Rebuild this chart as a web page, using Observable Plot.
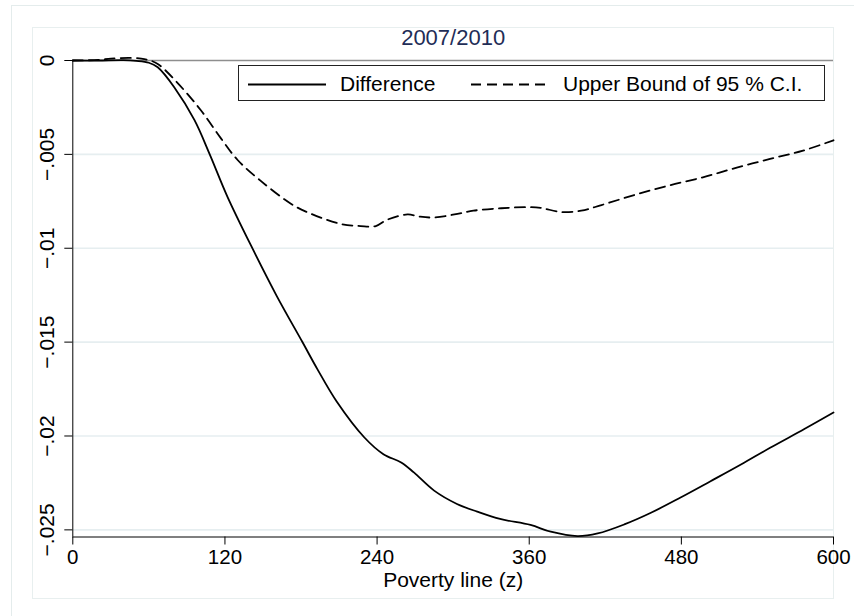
<!DOCTYPE html>
<html>
<head>
<meta charset="utf-8">
<script src="https://cdn.jsdelivr.net/npm/d3@7"></script>
<script src="https://cdn.jsdelivr.net/npm/@observablehq/plot@0.6"></script>
<style>
  html, body { margin: 0; padding: 0; background: #fff; }
  #wrap { position: relative; width: 854px; height: 616px; overflow: hidden; font-family: "Liberation Sans", Arial, sans-serif; }
  .outer { position: absolute; left: 11px; top: 5px; width: 900px; height: 700px; border-left: 1px solid #e4ecec; border-top: 1px solid #e4ecec; }
  .inner { position: absolute; left: 32px; top: 27px; width: 800px; height: 570px; border: 1px solid #e8efef; }
  #chart { position: absolute; left: 0; top: 0; }
  .legend { position: absolute; left: 238px; top: 65px; width: 587px; height: 36px; border: 1px solid #222; background: #fff; box-sizing: border-box; }
  .legend span { position: absolute; top: 6px; font-size: 21px; color: #000; white-space: nowrap; }
  .legend svg { position: absolute; top: 0; }
</style>
</head>
<body>
<div id="wrap">
  <div class="outer"></div>
  <div class="inner"></div>
  <div id="chart"></div>
</div>
<script>
// Difference curve
const diffZ = [0, 20, 40, 50, 60, 67, 80, 96, 108, 122, 142, 161, 181, 193, 208, 230, 245, 259, 269, 285, 303, 319, 337, 361, 377, 398, 414, 435, 456, 479, 503, 527, 550, 577, 600];
const diffV = [0, 0, 0.00002, -0.00002, -0.00012, -0.00036, -0.00142, -0.00318, -0.0050, -0.00726, -0.01005, -0.01256, -0.01498, -0.01645, -0.01815, -0.02008, -0.02097, -0.02141, -0.02194, -0.02291, -0.02362, -0.02403, -0.02442, -0.02474, -0.02510, -0.02533, -0.02519, -0.02471, -0.02409, -0.02329, -0.02241, -0.02152, -0.02063, -0.01963, -0.01875];
// Upper bound of 95% C.I.
const upZ = [0, 20, 30, 45, 54, 60, 67, 82, 101, 117, 130, 148, 172, 185, 211, 227, 239, 248, 264, 274, 285, 301, 316, 338, 358, 369, 385, 401, 417, 444, 470, 497, 523, 550, 576, 600];
const upV = [0, 0.00003, 0.0001, 0.00014, 0.0001, 0.00002, -0.00018, -0.00115, -0.00265, -0.00416, -0.0053, -0.0064, -0.00763, -0.00808, -0.0087, -0.00882, -0.00882, -0.00848, -0.0082, -0.00832, -0.00836, -0.0082, -0.008, -0.00787, -0.00781, -0.00785, -0.00807, -0.008, -0.0077, -0.00714, -0.00666, -0.00622, -0.00572, -0.00524, -0.0048, -0.00425];

const xTicks = [0, 120, 240, 360, 480, 600];
const yTicks = [0, -0.005, -0.01, -0.015, -0.02, -0.025];
const yTickLabels = ["0", "\u2212.005", "\u2212.01", "\u2212.015", "\u2212.02", "\u2212.025"];
const titleText = "2007/2010";
const xLabel = "Poverty line (z)";
const seriesNames = ["Difference", "Upper Bound of 95 % C.I."];

const diffData = diffZ.map((z, i) => ({z, v: diffV[i]}));
const upData = upZ.map((z, i) => ({z, v: upV[i]}));
const yMin = -0.02538;

const plot = Plot.plot({
  width: 854,
  height: 616,
  marginLeft: 72.3,
  marginRight: 21,
  marginTop: 60,
  marginBottom: 79.5,
  style: {fontFamily: "Liberation Sans, Arial, sans-serif", background: "transparent", color: "#000"},
  x: {domain: [0, 600]},
  y: {domain: [yMin, 0]},
  marks: [
    Plot.ruleY(yTicks.filter(d => d !== 0), {stroke: "#e6eef0", strokeWidth: 1.6}),
    Plot.ruleY([0], {stroke: "#8e8e8e", strokeWidth: 1.6}),
    Plot.ruleX([0], {stroke: "#000", strokeWidth: 1}),
    Plot.ruleY([yMin], {stroke: "#000", strokeWidth: 1}),
    Plot.axisX({ticks: xTicks, tickSize: 8, tickPadding: 4, fontSize: 20.5, label: null, tickFormat: d => String(d), stroke: "#000"}),
    Plot.axisY({ticks: yTicks, tickSize: 8, tickPadding: 11, tickRotate: -90, fontSize: 21, label: null,
      tickFormat: d => yTickLabels[yTicks.indexOf(d)], stroke: "#000"}),
    Plot.line(upData, {x: "z", y: "v", stroke: "#000", strokeWidth: 1.8, strokeDasharray: "10,6", curve: "catmull-rom"}),
    Plot.line(diffData, {x: "z", y: "v", stroke: "#000", strokeWidth: 1.8, curve: "catmull-rom"}),
    Plot.text([titleText], {frameAnchor: "top", dy: -23, fontSize: 22, fill: "#1f2d57", lineAnchor: "middle"}),
    Plot.text([xLabel], {frameAnchor: "bottom", dy: 43, fontSize: 21, fill: "#000", lineAnchor: "middle"})
  ]
});
document.getElementById("chart").appendChild(plot);

// Legend
const leg = document.createElement("div");
leg.className = "legend";
leg.innerHTML =
  `<svg width="90" height="36" style="left:9px"><line x1="0" x2="78" y1="18.5" y2="18.5" stroke="#000" stroke-width="1.8"/></svg>` +
  `<span style="left:101px">${seriesNames[0]}</span>` +
  `<svg width="90" height="36" style="left:232px"><line x1="0" x2="78" y1="18.5" y2="18.5" stroke="#000" stroke-width="1.8" stroke-dasharray="10,6"/></svg>` +
  `<span style="left:324px">${seriesNames[1]}</span>`;
document.getElementById("wrap").appendChild(leg);
</script>
</body>
</html>
